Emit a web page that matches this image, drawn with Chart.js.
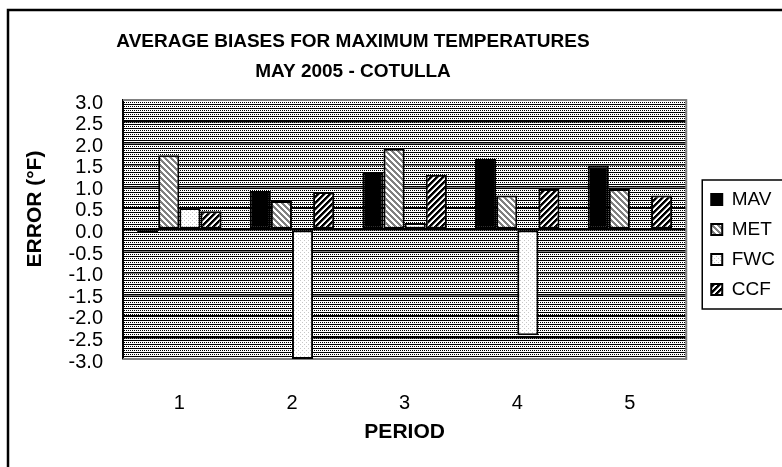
<!DOCTYPE html>
<html lang="en">
<head>
    <meta charset="UTF-8">
    <title>Average Biases for Maximum Temperatures</title>
    <script src="https://cdn.jsdelivr.net/npm/chart.js"></script>
    <style>
        body {
            margin: 0;
            background: #fff;
        }
        canvas {
            display: block;
        }
    </style>
</head>
<body>
    <canvas id="chartCanvas" width="782" height="467"></canvas>

    <script>
        // data
        const periods = ['1', '2', '3', '4', '5'];
        const mav = [-0.07, 0.89, 1.31, 1.64, 1.48];
        const met = [1.72, 0.66, 1.87, 0.79, 0.94];
        const fwc = [0.50, -3.0, 0.15, -2.45, 0.0];
        const ccf = [0.42, 0.87, 1.27, 0.94, 0.79];
        const yTicks = [3.0, 2.5, 2.0, 1.5, 1.0, 0.5, 0.0, -0.5, -1.0, -1.5, -2.0, -2.5, -3.0];
        const titleLines = ['AVERAGE BIASES FOR MAXIMUM TEMPERATURES', 'MAY 2005 - COTULLA'];
        const yTitle = 'ERROR (°F)';

        const FONT = "'Liberation Sans', Arial, sans-serif";

        // small tiles for the Excel-like fills
        function makePattern(size, pick) {
            const c = document.createElement('canvas');
            c.width = size;
            c.height = size;
            const g = c.getContext('2d');
            const img = g.createImageData(size, size);
            for (let y = 0; y < size; y++) {
                for (let x = 0; x < size; x++) {
                    const v = pick(x, y);
                    const i = (y * size + x) * 4;
                    img.data[i] = v; img.data[i + 1] = v; img.data[i + 2] = v; img.data[i + 3] = 255;
                }
            }
            g.putImageData(img, 0, 0);
            return g.createPattern(c, 'repeat');
        }

        const ctx = document.getElementById('chartCanvas').getContext('2d');

        const metFill = makePattern(6, (x, y) => ((x - y + 6) % 6) < 3 ? 128 : 255);
        const ccfFill = makePattern(6, (x, y) => {
            const d = (x + y) % 6;
            return d < 3 ? 0 : (d === 3 ? 150 : 255);
        });
        const fwcFill = makePattern(4, (x, y) => ((x === 0 && y === 0) || (x === 2 && y === 2)) ? 200 : 255);
        const plotFill = makePattern(4, (x, y) => {
            if (y === 0) return 0;
            if (y === 2) return x % 2 === 0 ? 0 : 255;
            return 255;
        });

        // plot area background, border lines, titles, outer frame and legend frame
        const decor = {
            id: 'decor',
            afterLayout(chart) {
                const lg = chart.legend;
                lg.left += 14; lg.right += 14;
                lg.top += 15; lg.bottom += 15;
            },
            beforeDraw(chart) {
                const a = chart.chartArea;
                const c = chart.ctx;
                c.save();
                c.fillStyle = plotFill;
                c.fillRect(a.left, a.top, a.right - a.left, a.bottom - a.top);
                c.restore();
            },
            beforeDatasetsDraw(chart) {
                const a = chart.chartArea;
                const c = chart.ctx;
                c.save();
                c.strokeStyle = '#808080';
                c.lineWidth = 2;
                c.beginPath();
                c.moveTo(a.left, a.top);
                c.lineTo(a.right, a.top);
                c.lineTo(a.right, a.bottom);
                c.lineTo(a.left, a.bottom);
                c.stroke();
                c.restore();
            },
            afterDraw(chart) {
                const c = chart.ctx;
                c.save();
                // outer frame
                c.strokeStyle = '#000';
                c.lineWidth = 2.5;
                c.strokeRect(8, 10, 800, 500);

                // chart title
                c.fillStyle = '#000';
                c.font = 'bold 19px ' + FONT;
                c.textAlign = 'center';
                c.textBaseline = 'middle';
                titleLines.forEach((t, i) => c.fillText(t, 353, 42 + i * 30));

                // value axis title, sits a bit above the plot middle like the original
                c.save();
                c.translate(35, 209);
                c.rotate(-Math.PI / 2);
                c.font = 'bold 21px ' + FONT;
                c.fillText(yTitle, 0, 0);
                c.restore();

                // legend frame
                const boxes = chart.legend.legendHitBoxes;
                if (boxes && boxes.length) {
                    const first = boxes[0];
                    const last = boxes[boxes.length - 1];
                    c.lineWidth = 1.5;
                    c.strokeRect(chart.legend.left + 2, first.top - 10, 200, last.top + last.height - first.top + 20);
                }
                c.restore();
            }
        };

        const chart = new Chart(ctx, {
            type: 'bar',
            data: {
                labels: periods,
                datasets: [
                    { label: 'MAV', data: mav, backgroundColor: '#000' },
                    { label: 'MET', data: met, backgroundColor: metFill },
                    { label: 'FWC', data: fwc, backgroundColor: fwcFill },
                    { label: 'CCF', data: ccf, backgroundColor: ccfFill }
                ].map(ds => Object.assign(ds, {
                    borderColor: '#000',
                    borderWidth: 2,
                    borderSkipped: false,
                    categoryPercentage: 0.75,
                    barPercentage: 1.0
                }))
            },
            options: {
                responsive: false,
                animation: false,
                devicePixelRatio: 1,
                layout: {
                    padding: { left: 8, top: 100, right: 11, bottom: 0 }
                },
                scales: {
                    x: {
                        grid: { display: false },
                        border: { display: false },
                        ticks: {
                            color: '#000',
                            padding: 24,
                            font: { family: FONT, size: 20 }
                        },
                        title: {
                            display: true,
                            text: 'PERIOD',
                            color: '#000',
                            padding: { top: 0, bottom: 22 },
                            font: { family: FONT, size: 21, weight: 'bold' }
                        },
                        afterFit(scale) { scale.height = 108; }
                    },
                    y: {
                        min: -3,
                        max: 3,
                        afterBuildTicks(scale) {
                            scale.ticks = yTicks.map(v => ({ value: v }));
                        },
                        grid: {
                            color: '#000',
                            lineWidth: 1.5,
                            drawTicks: false
                        },
                        border: { color: '#000', width: 2 },
                        ticks: {
                            color: '#000',
                            autoSkip: false,
                            padding: 20,
                            labelOffset: 3,
                            font: { family: FONT, size: 20 },
                            callback: v => Number(v).toFixed(1)
                        },
                        title: { display: false },
                        afterFit(scale) { scale.width = 115; }
                    }
                },
                plugins: {
                    title: { display: false },
                    tooltip: { enabled: false },
                    legend: {
                        position: 'right',
                        fullSize: false,
                        labels: {
                            color: '#000',
                            boxWidth: 11,
                            boxHeight: 11,
                            padding: 11,
                            font: { family: FONT, size: 19 }
                        }
                    }
                }
            },
            plugins: [decor]
        });
    </script>
</body>
</html>
